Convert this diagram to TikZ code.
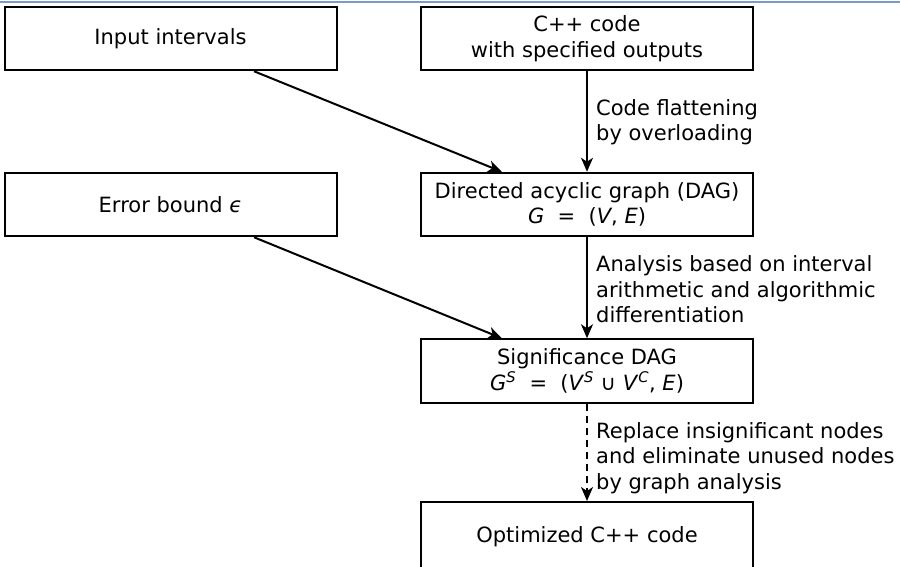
\documentclass[tikz,border=0pt]{standalone}
\usepackage{fontspec}
\setmainfont{DejaVu Sans}
\usetikzlibrary{calc,arrows.meta}
\tikzset{
  box/.style={draw=black, line width=2pt, rectangle, inner sep=0pt, minimum width=332pt, minimum height=63.5pt, align=center, font=\fontsize{21}{25.5}\selectfont},
  lbl/.style={inner sep=0pt, anchor=west, align=left, font=\fontsize{21}{25.5}\selectfont},
  conn/.style={line width=2pt, -{Stealth[length=14pt,width=12pt,inset=4pt]}},
}
\begin{document}
\begin{tikzpicture}[x=1pt,y=-1pt]
\useasboundingbox (0,0) rectangle (900,567);
\clip (0,0) rectangle (900,567);
\draw[line width=2pt, color={rgb,255:red,120;green,155;blue,200}] (0,2.5) -- (900,2.5);
\node[box] (in) at (170.5,38.5) {Input intervals};
\node[box] (cpp) at (587,38.5) {C++ code\\with specified outputs};
\node[box] (err) at (170.5,204.5) {Error bound \textit{ϵ}};
\node[box] (dag) at (587,204.5) {Directed acyclic graph (DAG)\\\textit{G}\ \ =\ \ (\textit{V}, \textit{E})};
\node[box] (sig) at (587,371) {Significance DAG\\\textit{G}\textsuperscript{\textit{S}}\ \ =\ \ (\textit{V}\textsuperscript{\textit{S}} ∪ \textit{V}\textsuperscript{\textit{C}}, \textit{E})};
\node[box, minimum height=70pt] (opt) at (587,537) {Optimized C++ code};
\draw[conn] ($(in.south west)!0.75!(in.south east)$) -- ($(dag.north west)!0.245!(dag.north east)$);
\draw[conn] ($(err.south west)!0.75!(err.south east)$) -- ($(sig.north west)!0.245!(sig.north east)$);
\draw[conn] (cpp.south) -- (dag.north);
\draw[conn] (dag.south) -- (sig.north);
\draw[conn, dash pattern=on 7pt off 5pt] (sig.south) -- (opt.north);
\node[lbl] (l1) at (596,122.3) {Code flattening\\by overloading};
\node[lbl] (l2) at (596,289.5) {Analysis based on interval\\arithmetic and algorithmic\\differentiation};
\node[lbl] (l3) at (596,458) {Replace insignificant nodes\\and eliminate unused nodes\\by graph analysis};
\end{tikzpicture}
\end{document}
